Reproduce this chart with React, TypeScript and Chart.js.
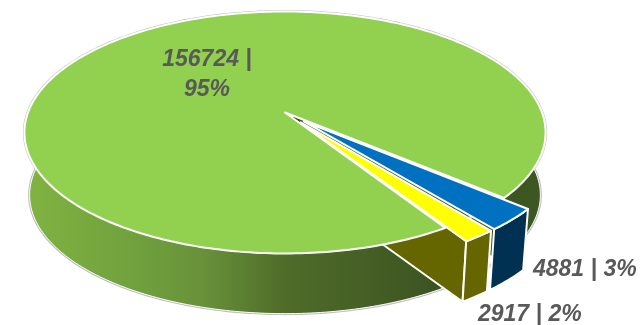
import React, { useEffect, useRef } from "react";
import { Chart, registerables } from "chart.js";

Chart.register(...registerables);

const categories = ["Grupo A", "Grupo B", "Grupo C"];
const values = [156724, 4881, 2917];
const topColors = ["#92d050", "#0070c0", "#ffff00"];
const wallColors = ["#4f6c29", "#003052", "#666600"];
const explode = [0, 11, 11];

const RX = 257;
const RY = 117.7;
const TILT = 0.165;
const DEPTH = 63;
const FLOOR_SCALE = 0.98;
const TEXT = "#595959";
const FONT = "italic bold 23px 'Liberation Sans', Arial, sans-serif";

type Pt = [number, number];

const pie3d = {
  id: "pie3d",
  beforeDatasetDraw(chart: any) {
    const ctx: CanvasRenderingContext2D = chart.ctx;
    const arcs = chart.getDatasetMeta(0).data;
    const cx = arcs[0].x;
    const cy = arcs[0].y;

    // Perspective view of the disc: floor = 0 is the top face, floor = 1 the base.
    const project = (u: number, v: number, floor: number): Pt => {
      const w = 1 - TILT * v;
      const s = floor ? FLOOR_SCALE : 1;
      return [cx + (RX * s * u) / w, cy + (RY * s * v) / w + floor * DEPTH];
    };

    const shift = (el: any): Pt => {
      const mid = (el.startAngle + el.endAngle) / 2;
      const e = (el.options.offset || 0) / el.outerRadius;
      return [e * Math.cos(mid), e * Math.sin(mid)];
    };

    const rim = (el: any, a0: number, a1: number, floor: number): Pt[] => {
      const [ox, oy] = shift(el);
      const n = Math.max(2, Math.ceil(Math.abs(a1 - a0) * 60));
      const out: Pt[] = [];
      for (let i = 0; i <= n; i++) {
        const t = a0 + ((a1 - a0) * i) / n;
        out.push(project(ox + Math.cos(t), oy + Math.sin(t), floor));
      }
      return out;
    };

    const trace = (pts: Pt[]) => {
      ctx.beginPath();
      pts.forEach((p, i) => (i ? ctx.lineTo(p[0], p[1]) : ctx.moveTo(p[0], p[1])));
      ctx.closePath();
    };

    const paint = (pts: Pt[], fill: string | CanvasGradient, stroke: string, width: number) => {
      trace(pts);
      ctx.fillStyle = fill;
      ctx.fill();
      ctx.strokeStyle = stroke;
      ctx.lineWidth = width;
      ctx.lineJoin = "round";
      ctx.stroke();
    };

    const wall = (el: any, a0: number, a1: number): Pt[] => [
      ...rim(el, a0, a1, 0),
      ...rim(el, a0, a1, 1).reverse(),
    ];

    const cutFace = (el: any, angle: number): Pt[] => {
      const [ox, oy] = shift(el);
      const inner0 = project(ox, oy, 0);
      const inner1 = project(ox, oy, 1);
      const outer0 = project(ox + Math.cos(angle), oy + Math.sin(angle), 0);
      const outer1 = project(ox + Math.cos(angle), oy + Math.sin(angle), 1);
      return [inner0, outer0, outer1, inner1];
    };

    const top = (el: any): Pt[] => {
      const [ox, oy] = shift(el);
      return [project(ox, oy, 0), ...rim(el, el.startAngle, el.endAngle, 0)];
    };

    const shade = ctx.createLinearGradient(24, 0, 545, 0);
    shade.addColorStop(0, "#80b441");
    shade.addColorStop(0.22, "#70a03d");
    shade.addColorStop(0.34, "#69923a");
    shade.addColorStop(0.5, "#4f6c29");
    shade.addColorStop(0.8, "#3c5321");
    shade.addColorStop(1, "#3e5622");

    const [green, blue, yellow] = arcs;
    const TWO_PI = Math.PI * 2;
    const greenEnd = green.endAngle - TWO_PI;
    const left = Math.PI * 1.03;
    const right = -0.08;

    // Opening of the main slice, seen behind the pulled-out wedges
    paint(cutFace(green, greenEnd), "#3c5321", "#ffffff", 1);

    // Side walls of the main slice, with a faint outer contour
    const silhouette = wall(green, right, left + TWO_PI * 0);
    trace(rim(green, left, right + TWO_PI, 0));
    ctx.strokeStyle = "#bdbdbd";
    ctx.lineWidth = 3;
    ctx.stroke();
    trace(silhouette);
    ctx.stroke();

    paint(wall(green, green.startAngle, left), shade, "#ffffff", 1);
    paint(wall(green, right, greenEnd), shade, "#ffffff", 1);

    // Pulled-out wedges, back to front
    paint(wall(blue, blue.startAngle, blue.endAngle), wallColors[1], "#ffffff", 2);
    paint(cutFace(yellow, yellow.endAngle), wallColors[2], "#ffffff", 2);
    paint(wall(yellow, yellow.startAngle, yellow.endAngle), wallColors[2], "#ffffff", 2);

    // The main slice hides whatever lies behind its top face
    paint(top(green), topColors[0], "#ffffff", 2);
    paint(top(blue), topColors[1], "#ffffff", 2);
    paint(top(yellow), topColors[2], "#ffffff", 2);

    return false;
  },
  afterDatasetsDraw(chart: any) {
    const ctx: CanvasRenderingContext2D = chart.ctx;
    const total = values.reduce((s, v) => s + v, 0);
    const pct = (v: number) => `${Math.round((v / total) * 100)}%`;
    ctx.save();
    ctx.font = FONT;
    ctx.fillStyle = TEXT;
    ctx.textBaseline = "alphabetic";
    ctx.textAlign = "center";
    ctx.fillText(`${values[0]} |`, 207, 66);
    ctx.fillText(pct(values[0]), 207, 96);
    ctx.textAlign = "left";
    ctx.fillText(`${values[1]} | ${pct(values[1])}`, 533, 276);
    ctx.fillText(`${values[2]} | ${pct(values[2])}`, 478, 321);
    ctx.restore();
  },
};

export default function App() {
  const ref = useRef<HTMLCanvasElement>(null);
  useEffect(() => {
    const chart = new Chart(ref.current!, {
      type: "pie",
      data: {
        labels: categories,
        datasets: [{ data: values, backgroundColor: topColors, offset: explode, borderWidth: 0 }],
      },
      options: {
        responsive: false,
        animation: false,
        rotation: 147.5,
        layout: { padding: { right: 70, bottom: 100 } },
        plugins: { legend: { display: false }, tooltip: { enabled: false } },
      },
      plugins: [pie3d],
    } as any);
    return () => chart.destroy();
  }, []);
  return (
    <div style={{ position: "fixed", left: 0, top: 0, width: 640, height: 325, background: "#fff" }}>
      <canvas ref={ref} width={640} height={325} style={{ display: "block" }} />
    </div>
  );
}
